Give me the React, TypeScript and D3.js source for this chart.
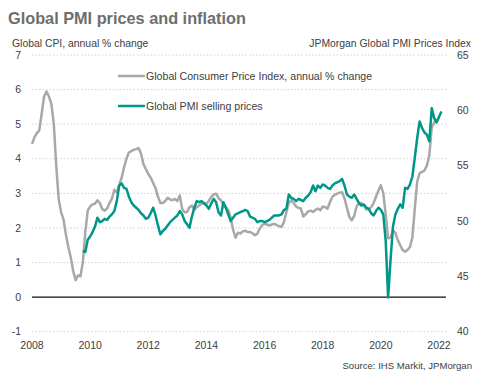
import React from "react";
import * as d3 from "d3";

// Global CPI, annual % change, monthly from Jan 2008 to Dec 2021
const cpiStart = 2008; // Jan 2008
const cpiValues = [
  4.43, 4.62, 4.74, 4.82, 5.3, 5.8, 5.94, 5.8, 5.58, 5.0, 3.8, 2.84,
  2.46, 2.25, 1.8, 1.45, 1.15, 0.75, 0.49, 0.63, 0.6, 1.02, 1.88, 2.5,
  2.62, 2.68, 2.7, 2.8, 2.72, 2.55, 2.5, 2.56, 2.72, 2.85, 3.1, 3.03,
  3.25, 3.45, 3.75, 4.0, 4.18, 4.22, 4.26, 4.28, 4.31, 4.15, 3.85, 3.7,
  3.56, 3.45, 3.3, 3.15, 2.9, 2.72, 2.72, 2.78, 2.87, 2.82, 2.8, 2.84,
  2.78, 2.94, 2.55, 2.45, 2.46, 2.6, 2.65, 2.52, 2.6, 2.65, 2.7, 2.72,
  2.7, 2.78, 2.9, 2.97, 2.99, 2.86, 2.8, 2.66, 2.6, 2.52, 2.3, 1.95,
  1.72, 1.86, 1.84, 1.9, 1.92, 1.88, 1.88, 1.85, 1.79, 1.83, 1.98, 2.08,
  2.12, 2.1, 2.07, 2.1, 2.12, 2.08, 2.05, 2.03, 2.18, 2.45, 2.72, 2.8,
  2.72, 2.62, 2.58, 2.56, 2.33, 2.4, 2.48, 2.5, 2.46, 2.52, 2.56, 2.51,
  2.62, 2.6, 2.56, 2.75, 2.9, 2.96, 2.99, 3.02, 3.03, 2.85, 2.58, 2.32,
  2.22, 2.35, 2.62, 2.72, 2.72, 2.65, 2.53, 2.55, 2.6, 2.72, 2.9, 3.08,
  3.23, 3.0, 2.4, 1.7, 1.72, 1.93, 1.86, 1.65, 1.5, 1.36, 1.31, 1.36,
  1.45, 1.72, 2.55, 3.35, 3.58, 3.62, 3.66, 3.8, 4.1, 4.9, 5.05, 5.15,
];

// JPMorgan Global PMI selling prices index, monthly from Oct 2009 to Feb 2022
const pmiStart = 2009 + 9 / 12; // Oct 2009
const pmiValues = [
  47.3, 47.2, 48.3,
  48.6, 49.0, 49.5, 50.3, 49.9, 50.0, 50.2, 50.1, 50.4, 50.6, 50.9, 51.8,
  53.2, 53.4, 53.0, 52.9, 52.2, 51.7, 51.4, 51.2, 51.0, 50.7, 50.5, 50.2,
  50.3, 50.7, 51.2, 50.5, 49.6, 48.8, 49.1, 49.3, 49.6, 49.9, 50.1, 50.3,
  50.5, 50.9, 50.6, 50.0, 49.7, 49.4, 50.4, 51.2, 51.8, 51.7, 51.8, 51.6,
  51.4, 51.1, 51.6, 52.0, 51.7, 50.8, 50.5, 51.7, 51.2, 50.6, 50.0, 50.3,
  50.6, 50.7, 50.8, 50.9, 51.0, 50.9, 50.4, 50.3, 50.2, 49.9, 50.0, 50.0,
  49.9, 50.0, 50.1, 50.3, 50.5, 50.5, 50.5, 50.6, 51.0, 51.1, 52.4, 52.1,
  52.0, 51.8, 52.0, 51.9, 51.8, 52.1, 52.3, 52.6, 53.2, 52.7, 53.2, 53.0,
  53.3, 53.2, 53.0, 52.9, 53.2, 53.4, 53.5, 53.6, 53.8, 53.2, 52.4, 52.2,
  52.1, 52.4, 52.0, 51.6, 51.4, 51.5, 51.2, 51.1, 50.7, 50.5, 50.9, 51.2,
  51.0, 50.6, 48.2, 43.1, 46.5, 49.5, 50.6, 51.1, 51.5, 51.2, 53.0, 52.9,
  53.3, 54.0, 55.7, 57.5, 59.0, 58.4, 58.0, 57.8, 57.2, 60.2, 59.3, 58.9,
  59.4, 59.9,
];

const xTicks = [2008, 2010, 2012, 2014, 2016, 2018, 2020, 2022];
const leftTicks = [-1, 0, 1, 2, 3, 4, 5, 6, 7];
const rightTicks = [40, 45, 50, 55, 60, 65];

const W = 483;
const H = 381;
const FONT = "'Liberation Sans', Arial, sans-serif";
const GRAY = "#a8a8a8";
const TEAL = "#009688";
const TXT = "#404040";

export default function App() {
  const x = d3.scaleLinear().domain([2008, 2022]).range([32, 439]);
  const yL = d3.scaleLinear().domain([-1, 7]).range([331.7, 55]);
  const yR = d3.scaleLinear().domain([40, 65]).range([331.7, 55]);
  const gridX0 = 32;
  const gridX1 = 447;

  const cpi = cpiValues.map((v, i) => ({ t: cpiStart + i / 12, v }));
  const pmi = pmiValues.map((v, i) => ({ t: pmiStart + i / 12, v }));

  const cpiLine = d3
    .line<{ t: number; v: number }>()
    .x((d) => x(d.t))
    .y((d) => yL(d.v));
  const pmiLine = d3
    .line<{ t: number; v: number }>()
    .x((d) => x(d.t))
    .y((d) => yR(d.v));

  return (
    <svg
      width={W}
      height={H}
      style={{ position: "absolute", left: 0, top: 0, background: "#fff" }}
      fontFamily={FONT}
    >
      <rect x={0} y={0} width={W} height={H} fill="#fff" />
      <text x={8} y={24} fontSize={16.3} fontWeight="bold" fill="#6e6e6e">
        Global PMI prices and inflation
      </text>
      <text x={12} y={47} fontSize={10.4} fill={TXT}>
        Global CPI, annual % change
      </text>
      <text x={471} y={47} fontSize={10.4} fill={TXT} textAnchor="end">
        JPMorgan Global PMI Prices Index
      </text>

      {leftTicks
        .filter((t) => t !== 0)
        .map((t) => (
          <line
            key={"g" + t}
            x1={gridX0}
            x2={gridX1}
            y1={yL(t)}
            y2={yL(t)}
            stroke="#c8c8c8"
            strokeWidth={0.8}
            strokeDasharray="1.5,2"
          />
        ))}
      <line x1={gridX0} x2={446} y1={yL(0)} y2={yL(0)} stroke="#111" strokeWidth={1.3} />

      {leftTicks.map((t) => (
        <text
          key={"l" + t}
          x={21}
          y={yL(t)}
          dy="0.35em"
          fontSize={10.5}
          fill={TXT}
          textAnchor="end"
        >
          {t}
        </text>
      ))}
      {rightTicks.map((t) => (
        <text key={"r" + t} x={457} y={yR(t)} dy="0.35em" fontSize={10.5} fill={TXT}>
          {t}
        </text>
      ))}
      {xTicks.map((t) => (
        <text
          key={"x" + t}
          x={x(t)}
          y={349}
          fontSize={10.5}
          fill={TXT}
          textAnchor="middle"
        >
          {t}
        </text>
      ))}

      <path d={cpiLine(cpi) || ""} fill="none" stroke={GRAY} strokeWidth={2.5} strokeLinejoin="round" />
      <path d={pmiLine(pmi) || ""} fill="none" stroke={TEAL} strokeWidth={2.5} strokeLinejoin="round" />

      <line x1={118} x2={145} y1={76} y2={76} stroke={GRAY} strokeWidth={2.5} />
      <text x={146} y={76} dy="0.35em" fontSize={10.6} fill={TXT}>
        Global Consumer Price Index, annual % change
      </text>
      <line x1={118} x2={145} y1={106} y2={106} stroke={TEAL} strokeWidth={2.5} />
      <text x={146} y={106} dy="0.35em" fontSize={10.6} fill={TXT}>
        Global PMI selling prices
      </text>

      <text x={472} y={369} fontSize={9.6} fill={TXT} textAnchor="end">
        Source: IHS Markit, JPMorgan
      </text>
    </svg>
  );
}
